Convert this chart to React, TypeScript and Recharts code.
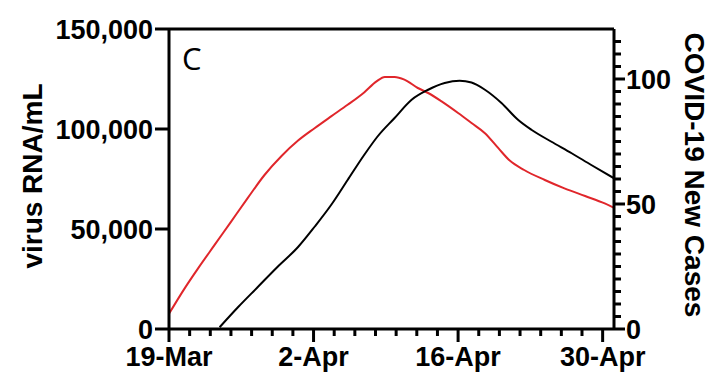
import React from 'react';
import { LineChart, Line, XAxis, YAxis, ReferenceLine } from 'recharts';

// Days after 19-Mar
const virusDays = [0, 1.5, 2.8, 4.4, 6.0, 7.6, 9.25, 10.9, 12.5, 14.1, 15.7, 17.3, 18.9, 20.1, 20.9, 21.85, 22.8, 24.1, 25.1, 26.4, 28.0, 29.3, 30.6, 31.9, 33.0, 34.4, 36.4, 38.3, 40.3, 42.2, 43.1];
const virusRNA = [7600, 20200, 30200, 41900, 53600, 65300, 77000, 86500, 94200, 100400, 106300, 112100, 118300, 123800, 126000, 126000, 124700, 120500, 118000, 113800, 108000, 103000, 97900, 90400, 84200, 79500, 74500, 70300, 66500, 62800, 60600];

const caseDays = [4.9, 6.7, 8.6, 10.5, 12.5, 14.1, 15.7, 17.3, 18.9, 20.2, 21.85, 23.5, 25.1, 26.7, 28.15, 29.3, 30.6, 32.2, 33.8, 35.1, 37.0, 39.0, 40.9, 43.1];
const newCases = [0.7, 8.8, 16.8, 24.8, 32.8, 40.9, 49.6, 59.6, 69.6, 77.0, 84.4, 91.7, 95.7, 98.4, 99.3, 98.6, 95.7, 90.4, 83.7, 79.7, 75.0, 70.3, 65.6, 60.3];

const xTicks = [0, 2, 4, 6, 8, 10, 12, 14, 16, 18, 20, 22, 24, 26, 28, 30, 32, 34, 36, 38, 40, 42];
const xMajor = [0, 14, 28, 42];
const xLabels = ['19-Mar', '2-Apr', '16-Apr', '30-Apr'];
const leftTicks = [0, 50000, 100000, 150000];
const rightTicks = [0, 5, 10, 15, 20, 25, 30, 35, 40, 45, 50, 55, 60, 65, 70, 75, 80, 85, 90, 95, 100, 105, 110, 115];
const rightMajor = [0, 50, 100];

const virusData = virusDays.map((d, i) => ({ day: d, rna: virusRNA[i] }));
const caseData = caseDays.map((d, i) => ({ day: d, cases: newCases[i] }));

const FONT = '"Liberation Sans", Arial, Helvetica, sans-serif';

const XTick = (props: any) => {
  const { x, y, payload } = props;
  const idx = xMajor.indexOf(payload.value);
  const major = idx >= 0;
  return (
    <g>
      <line x1={x} x2={x} y1={y} y2={y + (major ? 13 : 7)} stroke="#000" strokeWidth={3} />
      {major && (
        <text x={x} y={y + 37} textAnchor="middle" fontFamily={FONT} fontWeight="bold" fontSize={27} fill="#000">
          {xLabels[idx]}
        </text>
      )}
    </g>
  );
};

const RightTick = (props: any) => {
  const { x, y, payload } = props;
  const major = rightMajor.indexOf(payload.value) >= 0;
  return (
    <g>
      <line x1={x} x2={x + (major ? 11 : 7)} y1={y} y2={y} stroke="#000" strokeWidth={3} />
      {major && (
        <text x={x + 12} y={y} dy="0.355em" textAnchor="start" fontFamily={FONT} fontWeight="bold" fontSize={27} fill="#000">
          {payload.value}
        </text>
      )}
    </g>
  );
};

export default function App() {
  return (
    <div style={{ position: 'absolute', left: 0, top: 0, width: 720, height: 374, background: '#fff' }}>
      <LineChart width={720} height={374} data={virusData} margin={{ top: 29, right: 0, bottom: 0, left: 0 }}>
        <XAxis
          type="number"
          dataKey="day"
          domain={[0, 43.1]}
          ticks={xTicks}
          interval={0}
          allowDataOverflow
          height={45}
          tickSize={0}
          tickMargin={0}
          tickLine={false}
          tick={<XTick />}
          axisLine={{ stroke: '#000', strokeWidth: 3 }}
        />
        <YAxis
          yAxisId="left"
          domain={[0, 150000]}
          ticks={leftTicks}
          interval={0}
          width={169}
          tickSize={14}
          tickMargin={2}
          tickLine={{ stroke: '#000', strokeWidth: 3 }}
          axisLine={{ stroke: '#000', strokeWidth: 3 }}
          tick={{ fill: '#000', fontSize: 27, fontWeight: 'bold', fontFamily: FONT }}
          tickFormatter={(v: number) => v.toLocaleString('en-US')}
        />
        <YAxis
          yAxisId="right"
          orientation="right"
          domain={[0, 120]}
          ticks={rightTicks}
          interval={0}
          width={106}
          tickSize={0}
          tickMargin={0}
          tickLine={false}
          tick={<RightTick />}
          axisLine={{ stroke: '#000', strokeWidth: 3 }}
        />
        <ReferenceLine yAxisId="left" y={150000} stroke="#000" strokeWidth={3} ifOverflow="visible" />
        <Line
          yAxisId="left"
          data={virusData}
          dataKey="rna"
          type="monotone"
          stroke="#e0262b"
          strokeWidth={2}
          dot={false}
          isAnimationActive={false}
        />
        <Line
          yAxisId="right"
          data={caseData}
          dataKey="cases"
          type="monotone"
          stroke="#000"
          strokeWidth={2}
          dot={false}
          isAnimationActive={false}
        />
        <text x={182} y={70} fontFamily='"Open Sans", sans-serif' fontSize={31} fill="#000">C</text>
        <text x={42} y={176} transform="rotate(-90, 42, 176)" textAnchor="middle" fontFamily={FONT} fontWeight="bold" fontSize={28} fill="#000">
          virus RNA/mL
        </text>
        <text x={685} y={175} transform="rotate(90, 685, 175)" textAnchor="middle" fontFamily={FONT} fontWeight="bold" fontSize={28} fill="#000">
          COVID-19 New Cases
        </text>
      </LineChart>
    </div>
  );
}
